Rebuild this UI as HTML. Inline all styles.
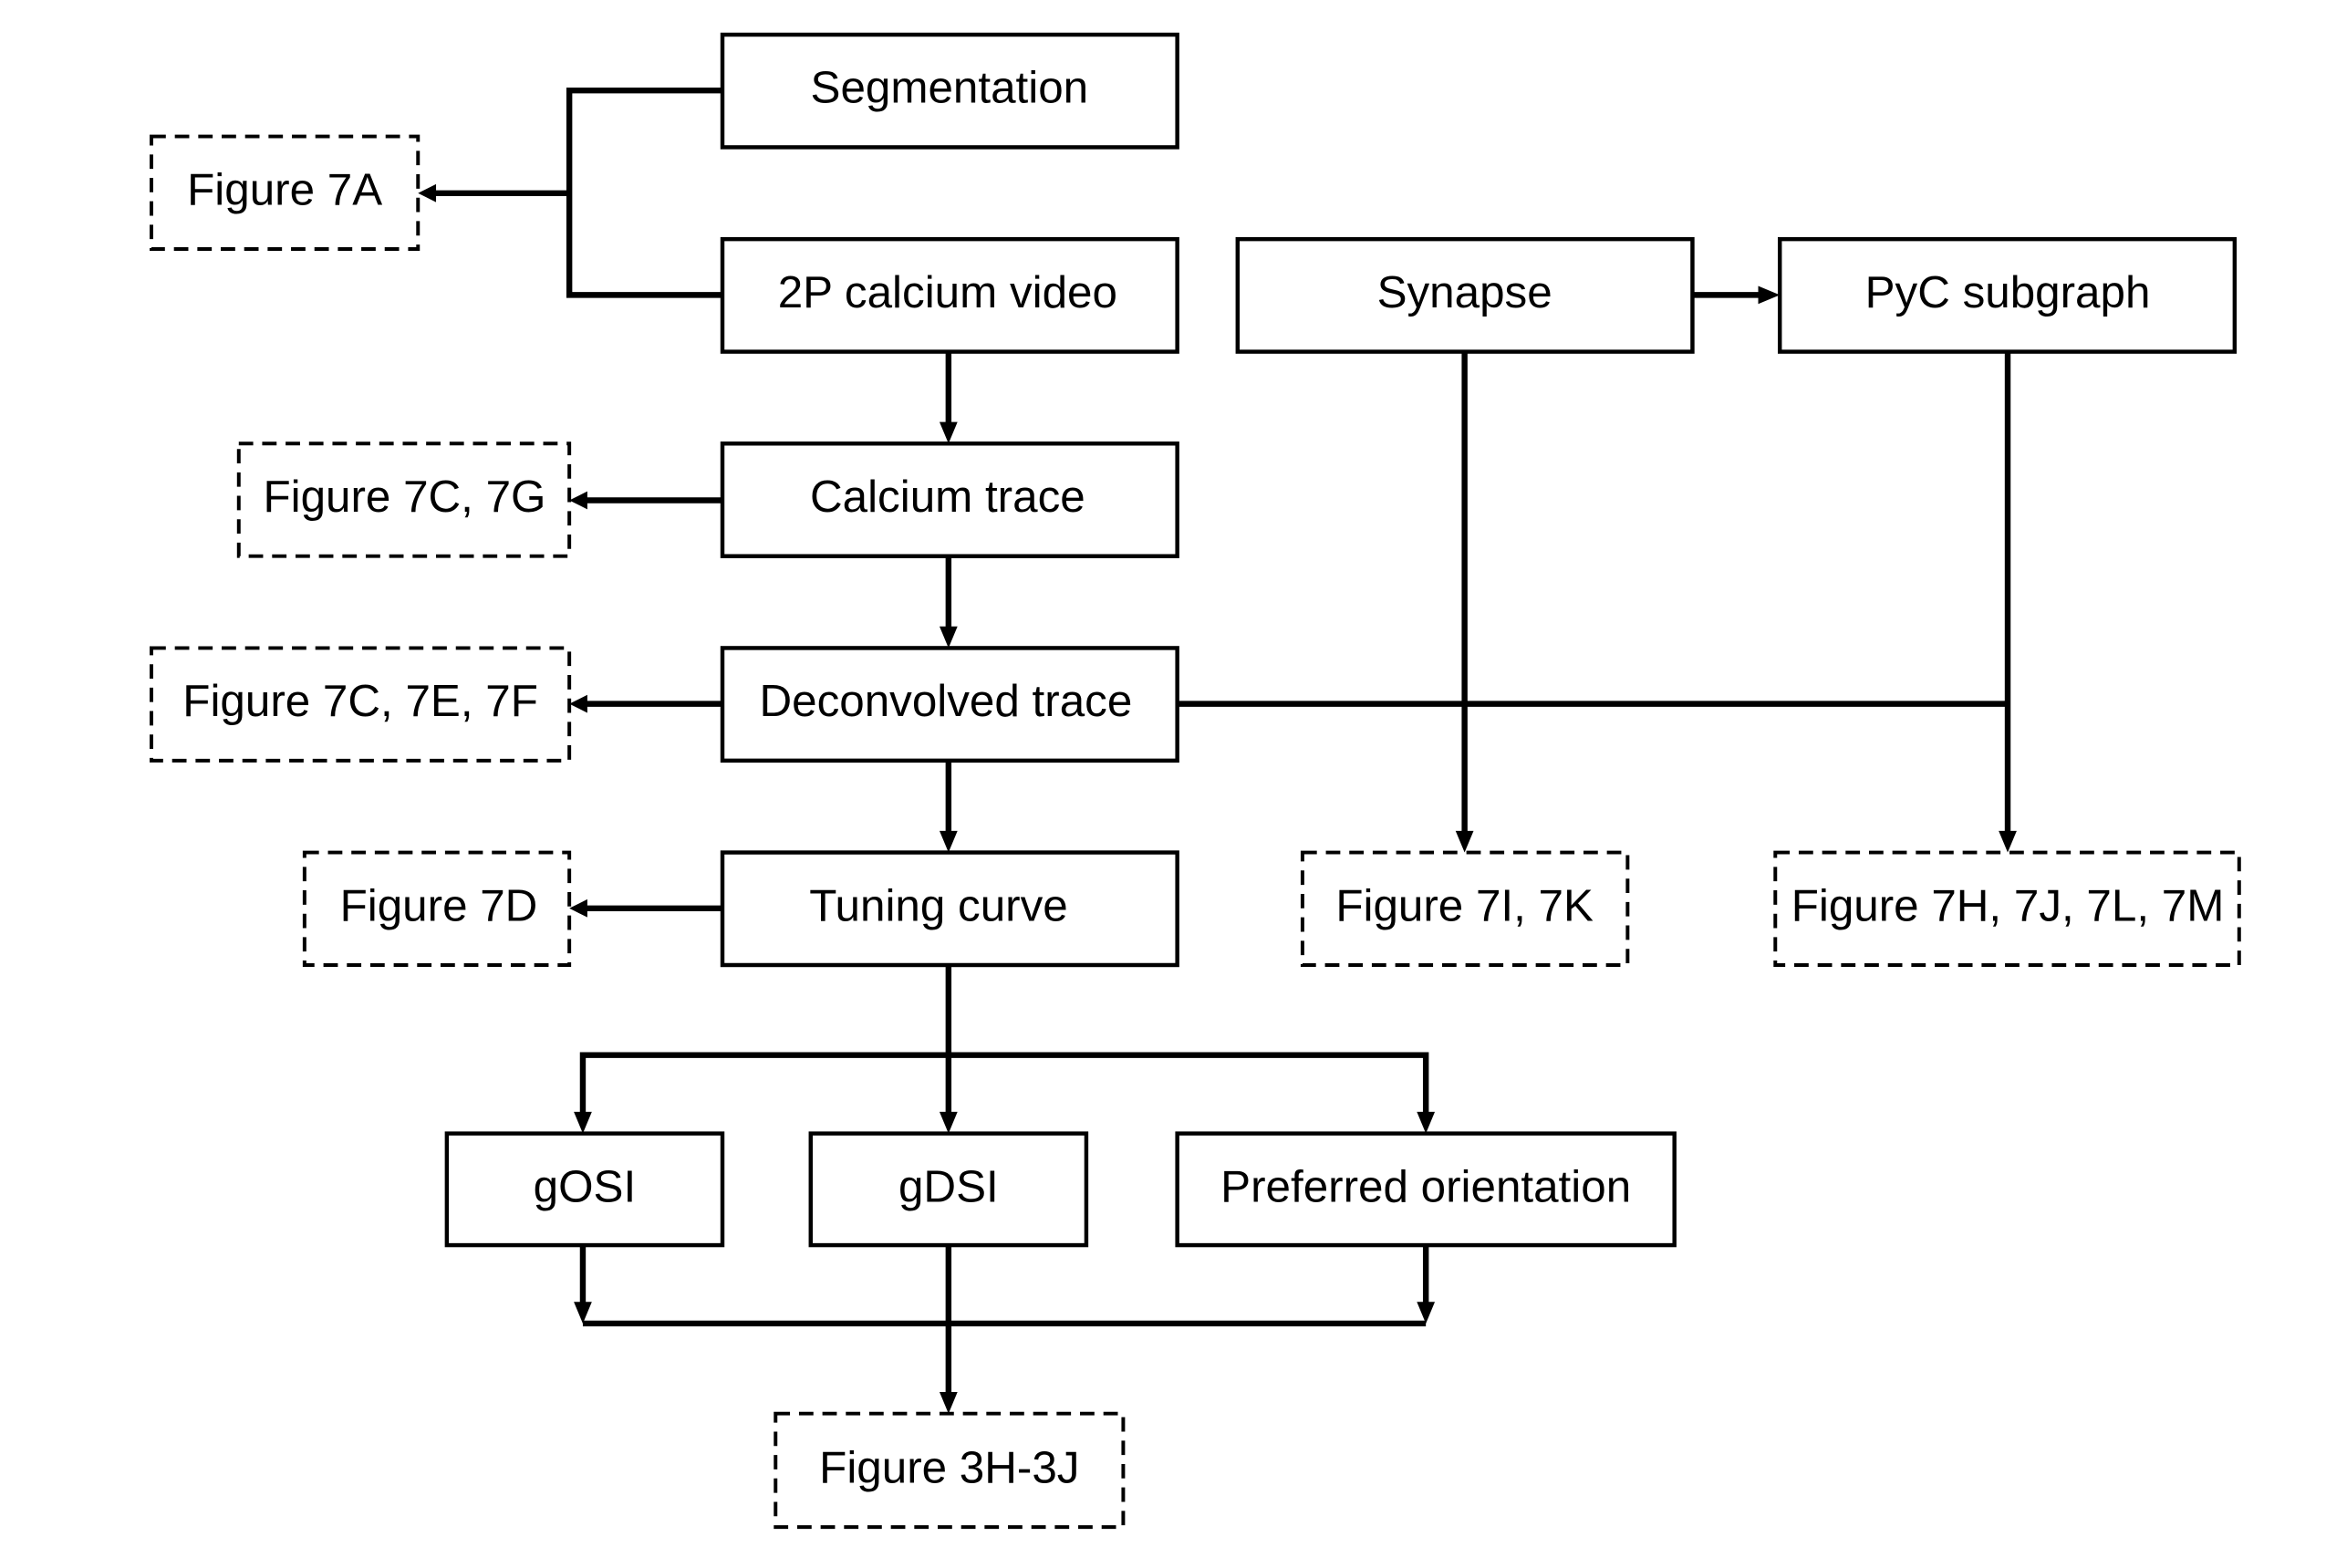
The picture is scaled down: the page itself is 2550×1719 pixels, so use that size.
<!DOCTYPE html>
<html><head><meta charset="utf-8"><style>
html,body{margin:0;padding:0;background:#fff;}
svg{display:block;}
text{font-family:"Liberation Sans",Arial,sans-serif;font-size:50px;fill:#000;text-anchor:middle;dominant-baseline:central;}
</style></head><body>
<svg width="2550" height="1719" viewBox="0 0 2550 1719" xmlns="http://www.w3.org/2000/svg">
<g transform="translate(166,38) scale(0.9874) translate(-166,-38)">
<g fill="none" stroke="#000" stroke-width="4.5">
<rect x="800" y="38" width="505" height="125"/>
<rect x="800" y="265" width="505" height="125"/>
<rect x="800" y="492" width="505" height="125"/>
<rect x="800" y="719" width="505" height="125"/>
<rect x="800" y="946" width="505" height="125"/>
<rect x="1372" y="265" width="505" height="125"/>
<rect x="1974" y="265" width="505" height="125"/>
<rect x="494" y="1258" width="306" height="124"/>
<rect x="898" y="1258" width="306" height="124"/>
<rect x="1305" y="1258" width="552" height="124"/>
</g>
<g fill="none" stroke="#000" stroke-width="4" stroke-dasharray="16,10">
<rect x="166" y="151" width="296" height="125"/>
<rect x="263" y="492" width="367" height="125"/>
<rect x="166" y="719" width="464" height="125"/>
<rect x="336" y="946" width="294" height="125"/>
<rect x="1444" y="946" width="361" height="125"/>
<rect x="1969" y="946" width="515" height="125"/>
<rect x="859" y="1569" width="386" height="126"/>
</g>
<g fill="none" stroke="#000" stroke-width="6.5">
<polyline points="800,100 630,100 630,327 800,327"/>
<line x1="630" y1="214" x2="480" y2="214"/>
<line x1="800" y1="555" x2="648" y2="555"/>
<line x1="800" y1="781" x2="648" y2="781"/>
<line x1="800" y1="1008" x2="648" y2="1008"/>
<line x1="1051" y1="390" x2="1051" y2="470"/>
<line x1="1051" y1="617" x2="1051" y2="697"/>
<line x1="1051" y1="844" x2="1051" y2="924"/>
<line x1="1877" y1="327" x2="1952" y2="327"/>
<line x1="1305" y1="781" x2="2227" y2="781"/>
<line x1="1624" y1="390" x2="1624" y2="924"/>
<line x1="2227" y1="390" x2="2227" y2="924"/>
<line x1="1051" y1="1071" x2="1051" y2="1236"/>
<polyline points="645,1236 645,1171 1581,1171 1581,1236"/>
<line x1="645" y1="1382" x2="645" y2="1447"/>
<line x1="1581" y1="1382" x2="1581" y2="1447"/>
<line x1="645" y1="1469" x2="1581" y2="1469"/>
<line x1="1051" y1="1382" x2="1051" y2="1547"/>
</g>
<g fill="#000">
<polygon points="462,214 482,204 482,224"/>
<polygon points="630,555 650,545 650,565"/>
<polygon points="630,781 650,771 650,791"/>
<polygon points="630,1008 650,998 650,1018"/>
<polygon points="1051,492 1041,468 1061,468"/>
<polygon points="1051,719 1041,695 1061,695"/>
<polygon points="1051,946 1041,922 1061,922"/>
<polygon points="1974,327 1950,317 1950,337"/>
<polygon points="1624,946 1614,922 1634,922"/>
<polygon points="2227,946 2217,922 2237,922"/>
<polygon points="645,1258 635,1234 655,1234"/>
<polygon points="1051,1258 1041,1234 1061,1234"/>
<polygon points="1581,1258 1571,1234 1591,1234"/>
<polygon points="645,1469 635,1445 655,1445"/>
<polygon points="1581,1469 1571,1445 1591,1445"/>
<polygon points="1051,1569 1041,1545 1061,1545"/>
</g>
<text x="1052" y="97">Segmentation</text>
<text x="1050" y="324">2P calcium video</text>
<text x="1050" y="551">Calcium trace</text>
<text x="1048" y="778">Deconvolved trace</text>
<text x="1040" y="1005">Tuning curve</text>
<text x="1624" y="324">Synapse</text>
<text x="2227" y="324">PyC subgraph</text>
<text x="314" y="210">Figure 7A</text>
<text x="447" y="551">Figure 7C, 7G</text>
<text x="398" y="778">Figure 7C, 7E, 7F</text>
<text x="485" y="1005">Figure 7D</text>
<text x="1624" y="1005">Figure 7I, 7K</text>
<text x="2227" y="1005">Figure 7H, 7J, 7L, 7M</text>
<text x="647" y="1317">gOSI</text>
<text x="1051" y="1317">gDSI</text>
<text x="1581" y="1317">Preferred orientation</text>
<text x="1052" y="1629">Figure 3H-3J</text>
</g>
</svg>
</body></html>
